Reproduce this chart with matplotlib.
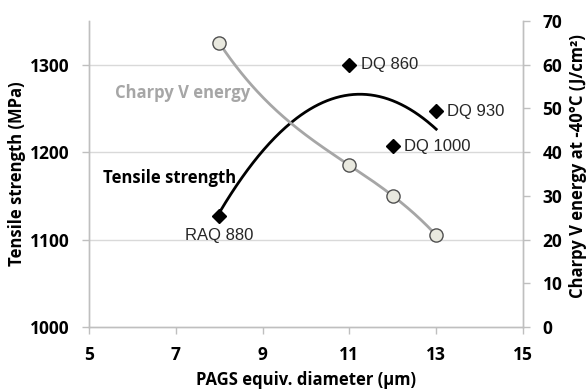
import matplotlib
matplotlib.use("Agg")
import matplotlib.pyplot as plt
import numpy as np

# ---- data ----
charpy_x = [8, 11, 12, 13]
charpy_y = [65, 37, 30, 21]

ts_x = [8, 11, 12, 13]
ts_y = [1127, 1300, 1207, 1247]
ts_labels = ["RAQ 880", "DQ 860", "DQ 1000", "DQ 930"]

x_ticks = [5, 7, 9, 11, 13, 15]
left_ticks = [1000, 1100, 1200, 1300]
right_ticks = [0, 10, 20, 30, 40, 50, 60, 70]

plt.rcParams["font.family"] = ["Open Sans", "DejaVu Sans"]
plt.rcParams["font.weight"] = "bold"
plt.rcParams["axes.labelweight"] = "bold"

GRID = "#d9d9d9"
SPINE = "#bfbfbf"

fig = plt.figure(figsize=(5.87, 3.90), dpi=100)
ax = fig.add_axes([89/587, 1 - 327/390, (523 - 89)/587, (327 - 21)/390])
ax2 = ax.twinx()

ax.set_xlim(5, 15)
ax.set_ylim(1000, 1350)
ax2.set_ylim(0, 70)

for v in left_ticks[1:]:
    ax.axhline(v, color=GRID, lw=1.0, zorder=0)

for a in (ax, ax2):
    a.spines["top"].set_visible(False)
    for s in ("left", "right", "bottom"):
        a.spines[s].set_color(SPINE)
        a.spines[s].set_linewidth(1.0)

ax.set_xticks(x_ticks)
ax.set_yticks(left_ticks)
ax2.set_yticks(right_ticks)
ax.tick_params(axis="x", colors=SPINE, labelcolor="black", labelsize=12.5,
               length=5, width=1.0, direction="out", pad=9)
ax.tick_params(axis="y", colors=SPINE, labelcolor="black", labelsize=12.5,
               length=5, width=1.0, direction="out", pad=9)
ax2.tick_params(axis="y", colors=SPINE, labelcolor="black", labelsize=12.5,
                length=5, width=1.0, direction="out", pad=9)

ax.set_xlabel("PAGS equiv. diameter (μm)", fontsize=12, va="center")
ax.xaxis.set_label_coords(0.5, (327 - 380) / 306)
ax.set_ylabel("Tensile strength (MPa)", fontsize=12, va="center")
ax.yaxis.set_label_coords((17 - 89) / 434, (327 - 174) / 306)
ax2.set_ylabel("Charpy V energy at -40°C (J/cm²)", fontsize=12, rotation=90, va="center")
ax2.yaxis.set_label_coords((578 - 89) / 434, (327 - 166) / 306)

# tensile strength: quadratic trend line through the diamonds
coef_ts = np.polyfit(ts_x, ts_y, 2)
xx = np.linspace(min(ts_x), max(ts_x), 200)
ax.plot(xx, np.polyval(coef_ts, xx), color="black", lw=2.0, zorder=3)
ax.plot(ts_x, ts_y, linestyle="none", marker="D", color="black", markersize=7, zorder=4)

label_offsets = {"RAQ 880": (0, -9, "center", "top"),
                 "DQ 860": (8, 0, "left", "center"),
                 "DQ 1000": (8, 0, "left", "center"),
                 "DQ 930": (8, 0, "left", "center")}
for x, y, t in zip(ts_x, ts_y, ts_labels):
    dx, dy, ha, va = label_offsets[t]
    ax.annotate(t, (x, y), xytext=(dx, dy), textcoords="offset points", ha=ha, va=va,
                fontfamily="Liberation Sans", fontweight="normal", fontsize=12,
                color="#262626", zorder=5)

# charpy: cubic trend line through the circles
coef_cv = np.polyfit(charpy_x, charpy_y, 3)
xc = np.linspace(min(charpy_x), max(charpy_x), 200)
ax2.plot(xc, np.polyval(coef_cv, xc), color="#a6a6a6", lw=2.0, zorder=3)
ax2.plot(charpy_x, charpy_y, linestyle="none", marker="o", markersize=9.5,
         markerfacecolor="#e9e9df", markeredgecolor="#505050", markeredgewidth=1.0, zorder=4)

ax.text(7.154, 1267.6, "Charpy V energy", ha="center", va="center",
        fontsize=12, color="#a6a6a6")
ax.text(6.855, 1170.4, "Tensile strength", ha="center", va="center",
        fontsize=12, color="black")

fig.savefig("out.png", dpi=100)
